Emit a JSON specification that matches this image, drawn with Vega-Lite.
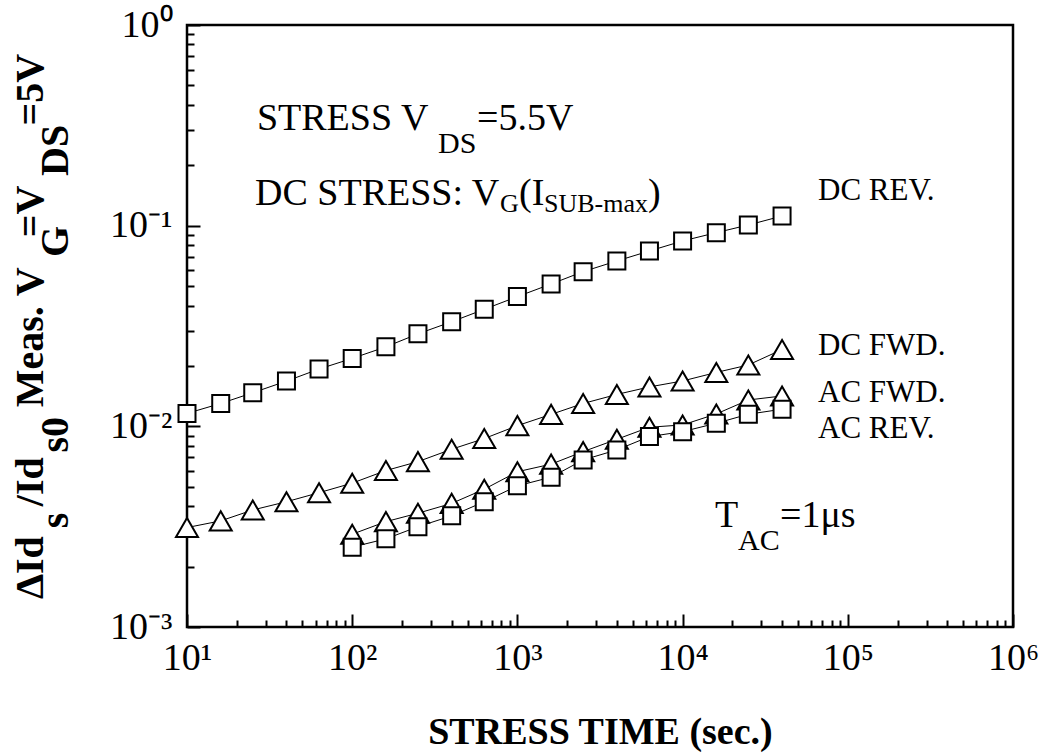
{
  "$schema": "https://vega.github.io/schema/vega-lite/v6.json",
  "autosize": {"type": "none"},
  "padding": {"left": 187, "top": 25, "right": 29, "bottom": 129},
  "width": 826,
  "height": 602,
  "background": "white",
  "config": {
    "view": {"stroke": "black", "strokeWidth": 2.5},
    "axis": {"domain": false, "grid": false, "tickColor": "black", "tickWidth": 2, "labelColor": "black", "labelFont": "Liberation Serif", "labelFontSize": 38, "labelOverlap": false, "labelFlush": false, "labelBound": false, "titleColor": "black"}
  },
  "datasets": {
    "points": [
      {"series": "DC REV.", "t": 10, "v": 0.0116},
      {"series": "DC REV.", "t": 16, "v": 0.0130},
      {"series": "DC REV.", "t": 25, "v": 0.0147},
      {"series": "DC REV.", "t": 40, "v": 0.0168},
      {"series": "DC REV.", "t": 63, "v": 0.0193},
      {"series": "DC REV.", "t": 100, "v": 0.0218},
      {"series": "DC REV.", "t": 160, "v": 0.0249},
      {"series": "DC REV.", "t": 250, "v": 0.0289},
      {"series": "DC REV.", "t": 400, "v": 0.0332},
      {"series": "DC REV.", "t": 630, "v": 0.0383},
      {"series": "DC REV.", "t": 1000, "v": 0.0443},
      {"series": "DC REV.", "t": 1600, "v": 0.0512},
      {"series": "DC REV.", "t": 2500, "v": 0.0590},
      {"series": "DC REV.", "t": 4000, "v": 0.0667},
      {"series": "DC REV.", "t": 6300, "v": 0.0748},
      {"series": "DC REV.", "t": 10000, "v": 0.0839},
      {"series": "DC REV.", "t": 16000, "v": 0.0923},
      {"series": "DC REV.", "t": 25000, "v": 0.1008},
      {"series": "DC REV.", "t": 40000, "v": 0.1117},
      {"series": "DC FWD.", "t": 10, "v": 0.00313},
      {"series": "DC FWD.", "t": 16, "v": 0.00338},
      {"series": "DC FWD.", "t": 25, "v": 0.00383},
      {"series": "DC FWD.", "t": 40, "v": 0.00421},
      {"series": "DC FWD.", "t": 63, "v": 0.00467},
      {"series": "DC FWD.", "t": 100, "v": 0.00521},
      {"series": "DC FWD.", "t": 160, "v": 0.00602},
      {"series": "DC FWD.", "t": 250, "v": 0.00667},
      {"series": "DC FWD.", "t": 400, "v": 0.00769},
      {"series": "DC FWD.", "t": 630, "v": 0.00869},
      {"series": "DC FWD.", "t": 1000, "v": 0.01008},
      {"series": "DC FWD.", "t": 1600, "v": 0.01147},
      {"series": "DC FWD.", "t": 2500, "v": 0.0130},
      {"series": "DC FWD.", "t": 4000, "v": 0.01442},
      {"series": "DC FWD.", "t": 6300, "v": 0.01572},
      {"series": "DC FWD.", "t": 10000, "v": 0.01683},
      {"series": "DC FWD.", "t": 16000, "v": 0.01856},
      {"series": "DC FWD.", "t": 25000, "v": 0.02022},
      {"series": "DC FWD.", "t": 40000, "v": 0.02415},
      {"series": "AC FWD.", "t": 100, "v": 0.00290},
      {"series": "AC FWD.", "t": 160, "v": 0.00335},
      {"series": "AC FWD.", "t": 250, "v": 0.00369},
      {"series": "AC FWD.", "t": 400, "v": 0.00413},
      {"series": "AC FWD.", "t": 630, "v": 0.00486},
      {"series": "AC FWD.", "t": 1000, "v": 0.00594},
      {"series": "AC FWD.", "t": 1600, "v": 0.00648},
      {"series": "AC FWD.", "t": 2500, "v": 0.00748},
      {"series": "AC FWD.", "t": 4000, "v": 0.00862},
      {"series": "AC FWD.", "t": 6300, "v": 0.0099},
      {"series": "AC FWD.", "t": 10000, "v": 0.01016},
      {"series": "AC FWD.", "t": 16000, "v": 0.01153},
      {"series": "AC FWD.", "t": 25000, "v": 0.01353},
      {"series": "AC FWD.", "t": 40000, "v": 0.01417},
      {"series": "AC REV.", "t": 100, "v": 0.00250},
      {"series": "AC REV.", "t": 160, "v": 0.00275},
      {"series": "AC REV.", "t": 250, "v": 0.00316},
      {"series": "AC REV.", "t": 400, "v": 0.00358},
      {"series": "AC REV.", "t": 630, "v": 0.00421},
      {"series": "AC REV.", "t": 1000, "v": 0.00505},
      {"series": "AC REV.", "t": 1600, "v": 0.00558},
      {"series": "AC REV.", "t": 2500, "v": 0.00680},
      {"series": "AC REV.", "t": 4000, "v": 0.00763},
      {"series": "AC REV.", "t": 6300, "v": 0.00889},
      {"series": "AC REV.", "t": 10000, "v": 0.00941},
      {"series": "AC REV.", "t": 16000, "v": 0.01036},
      {"series": "AC REV.", "t": 25000, "v": 0.01149},
      {"series": "AC REV.", "t": 40000, "v": 0.01217}
    ],
    "main": [
      {"t": 26.5, "v": 0.2998, "text": "STRESS V"},
      {"t": 569, "v": 0.2998, "text": "=5.5V"},
      {"t": 25.8, "v": 0.1268, "text": "DC STRESS: V"},
      {"t": 1023, "v": 0.1268, "text": "(I"},
      {"t": 6175, "v": 0.1268, "text": ")"},
      {"t": 15700, "v": 0.003154, "text": "T"},
      {"t": 38870, "v": 0.003154, "text": "=1μs"}
    ],
    "sub30": [
      {"t": 330.6, "v": 0.2303, "text": "DS"},
      {"t": 21640, "v": 0.002422, "text": "AC"}
    ],
    "sub26": [
      {"t": 785, "v": 0.1170, "text": "G"},
      {"t": 1449, "v": 0.1170, "text": "SUB-max"}
    ],
    "names": [
      {"t": 66000, "v": 0.1343, "text": "DC REV."},
      {"t": 66000, "v": 0.02269, "text": "DC FWD."},
      {"t": 66000, "v": 0.01323, "text": "AC FWD."},
      {"t": 66000, "v": 0.008754, "text": "AC REV."}
    ]
  },
  "encoding": {
    "x": {
      "field": "t", "type": "quantitative",
      "scale": {"type": "log", "domain": [10, 1000000], "nice": false},
      "axis": {
        "values": [10,20,30,40,50,60,70,80,90,100,200,300,400,500,600,700,800,900,1000,2000,3000,4000,5000,6000,7000,8000,9000,10000,20000,30000,40000,50000,60000,70000,80000,90000,100000,200000,300000,400000,500000,600000,700000,800000,900000,1000000],
        "labelExpr": "abs(log(datum.value)/LN10 - round(log(datum.value)/LN10)) < 0.001 ? '10' + (round(log(datum.value)/LN10) < 0 ? '⁻' : '') + substring('⁰¹²³⁴⁵⁶⁷⁸⁹', abs(round(log(datum.value)/LN10)), abs(round(log(datum.value)/LN10)) + 1) : ''",
        "tickSize": {"condition": {"test": "abs(log(datum.value)/LN10 - round(log(datum.value)/LN10)) < 0.001", "value": -13}, "value": -7},
        "labelPadding": 25,
        "labelBaseline": "top",
        "title": "STRESS TIME (sec.)",
        "titleFont": "Liberation Serif",
        "titleFontWeight": "bold",
        "titleFontSize": 38,
        "titlePadding": 30
      }
    },
    "y": {
      "field": "v", "type": "quantitative",
      "scale": {"type": "log", "domain": [0.001, 1], "nice": false},
      "axis": {
        "values": [0.001,0.002,0.003,0.004,0.005,0.006,0.007,0.008,0.009,0.01,0.02,0.03,0.04,0.05,0.06,0.07,0.08,0.09,0.1,0.2,0.3,0.4,0.5,0.6,0.7,0.8,0.9,1],
        "labelExpr": "abs(log(datum.value)/LN10 - round(log(datum.value)/LN10)) < 0.001 ? '10' + (round(log(datum.value)/LN10) < 0 ? '⁻' : '') + substring('⁰¹²³⁴⁵⁶⁷⁸⁹', abs(round(log(datum.value)/LN10)), abs(round(log(datum.value)/LN10)) + 1) : ''",
        "tickSize": {"condition": {"test": "abs(log(datum.value)/LN10 - round(log(datum.value)/LN10)) < 0.001", "value": -13}, "value": -7},
        "labelPadding": 28,
        "labelBaseline": "middle",
        "title": ["ΔId\u00a0\u00a0\u00a0/Id\u00a0\u00a0\u00a0\u00a0\u00a0Meas.\u00a0V\u00a0\u00a0\u00a0=V\u00a0\u00a0\u00a0\u00a0\u00a0\u00a0=5V", "\u00a0\u00a0\u00a0\u00a0\u00a0\u00a0s\u00a0\u00a0\u00a0\u00a0\u00a0\u00a0s0\u00a0\u00a0\u00a0\u00a0\u00a0\u00a0\u00a0\u00a0\u00a0\u00a0\u00a0\u00a0\u00a0\u00a0\u00a0\u00a0G\u00a0\u00a0\u00a0\u00a0\u00a0DS\u00a0\u00a0\u00a0\u00a0\u00a0\u00a0\u00a0\u00a0"],
        "titleFont": "Liberation Serif",
        "titleFontWeight": "bold",
        "titleFontSize": 40,
        "titleLineHeight": 25,
        "titlePadding": 34
      }
    }
  },
  "layer": [
    {
      "data": {"name": "points"},
      "mark": {"type": "line", "color": "black", "strokeWidth": 1},
      "encoding": {"detail": {"field": "series"}}
    },
    {
      "data": {"name": "points"},
      "transform": [{"filter": "datum.series === 'DC FWD.' || datum.series === 'AC FWD.'"}],
      "mark": {"type": "point", "shape": "triangle-up", "size": 484, "fill": "white", "fillOpacity": 1, "stroke": "black", "strokeWidth": 2, "opacity": 1}
    },
    {
      "data": {"name": "points"},
      "transform": [{"filter": "datum.series === 'DC REV.' || datum.series === 'AC REV.'"}],
      "mark": {"type": "point", "shape": "square", "size": 289, "fill": "white", "fillOpacity": 1, "stroke": "black", "strokeWidth": 2, "opacity": 1}
    },
    {
      "data": {"name": "main"},
      "mark": {"type": "text", "font": "Liberation Serif", "fontSize": 38, "align": "left", "baseline": "alphabetic", "color": "black"},
      "encoding": {"text": {"field": "text"}}
    },
    {
      "data": {"name": "sub30"},
      "mark": {"type": "text", "font": "Liberation Serif", "fontSize": 30, "align": "left", "baseline": "alphabetic", "color": "black"},
      "encoding": {"text": {"field": "text"}}
    },
    {
      "data": {"name": "sub26"},
      "mark": {"type": "text", "font": "Liberation Serif", "fontSize": 26, "align": "left", "baseline": "alphabetic", "color": "black"},
      "encoding": {"text": {"field": "text"}}
    },
    {
      "data": {"name": "names"},
      "mark": {"type": "text", "font": "Liberation Serif", "fontSize": 31, "align": "left", "baseline": "alphabetic", "color": "black"},
      "encoding": {"text": {"field": "text"}}
    }
  ]
}
